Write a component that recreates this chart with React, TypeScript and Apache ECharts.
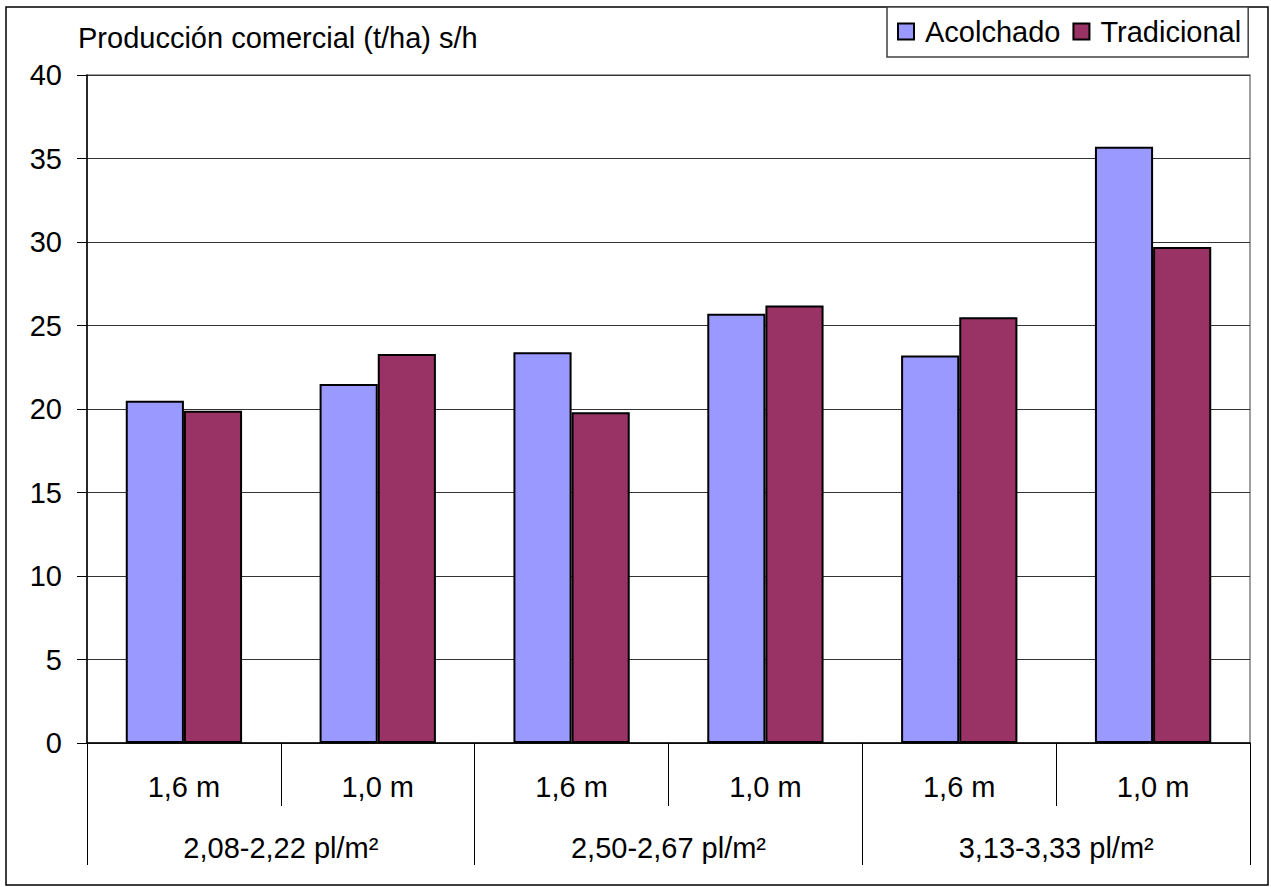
import React, { useEffect, useRef } from "react";
import * as echarts from "echarts";

const spacings = ["1,6 m", "1,0 m", "1,6 m", "1,0 m", "1,6 m", "1,0 m"];
const densities = ["2,08-2,22 pl/m²", "2,50-2,67 pl/m²", "3,13-3,33 pl/m²"];
const acolchado = [20.5, 21.5, 23.4, 25.7, 23.2, 35.7];
const tradicional = [19.9, 23.3, 19.8, 26.2, 25.5, 29.7];
const yMin = 0;
const yMax = 40;
const yStep = 5;
const titleText = "Producción comercial (t/ha) s/h";

const FONT = "'Liberation Sans', Arial, sans-serif";
const FS = 29;

export default function App() {
  const ref = useRef<HTMLDivElement>(null);
  useEffect(() => {
    if (!ref.current) return;
    const chart = echarts.init(ref.current, null, { renderer: "svg" });
    chart.setOption({
      animation: false,
      backgroundColor: "#ffffff",
      textStyle: { fontFamily: FONT, color: "#000" },
      title: {
        text: titleText,
        left: 78,
        top: 23,
        padding: 0,
        textStyle: { fontFamily: FONT, fontSize: FS, fontWeight: "normal", color: "#000" },
      },
      legend: {
        left: 887,
        top: 7,
        padding: [10, 7, 11, 10],
        itemWidth: 16,
        itemHeight: 16,
        itemGap: 12,
        borderColor: "#404040",
        borderWidth: 1.5,
        backgroundColor: "#fff",
        icon: "rect",
        textStyle: { fontFamily: FONT, fontSize: FS, color: "#000", padding: [0, 0, 0, 6] },
        data: ["Acolchado", "Tradicional"],
      },
      grid: {
        left: 87,
        top: 75,
        width: 1163,
        height: 668,
        show: true,
        borderColor: "#808080",
        borderWidth: 1.5,
        containLabel: false,
      },
      xAxis: [
        {
          type: "category",
          data: spacings,
          position: "bottom",
          axisLine: { show: true, lineStyle: { color: "#000", width: 1.5 } },
          axisTick: { show: true, length: 63, interval: 0, lineStyle: { color: "#000", width: 1 } },
          axisLabel: { fontFamily: FONT, fontSize: FS, color: "#000", margin: 29, interval: 0 },
          splitLine: { show: false },
        },
        {
          type: "category",
          data: densities,
          position: "bottom",
          axisLine: { show: false },
          axisTick: { show: true, length: 122, interval: 0, lineStyle: { color: "#000", width: 1 } },
          axisLabel: { fontFamily: FONT, fontSize: FS, color: "#000", margin: 90, interval: 0 },
          splitLine: { show: false },
        },
      ],
      yAxis: {
        type: "value",
        min: yMin,
        max: yMax,
        interval: yStep,
        axisLine: { show: true, lineStyle: { color: "#000", width: 1.5 } },
        axisTick: { show: true, length: 10, inside: false, lineStyle: { color: "#000", width: 1 } },
        axisLabel: { fontFamily: FONT, fontSize: FS, color: "#000", margin: 25 },
        splitLine: { show: true, lineStyle: { color: "#333", width: 1 } },
      },
      series: [
        {
          name: "Acolchado",
          type: "bar",
          xAxisIndex: 0,
          data: acolchado,
          barGap: "0%",
          barCategoryGap: "40%",
          itemStyle: { color: "#9999FF", borderColor: "#000", borderWidth: 2 },
        },
        {
          name: "Tradicional",
          type: "bar",
          xAxisIndex: 0,
          data: tradicional,
          barGap: "0%",
          barCategoryGap: "40%",
          itemStyle: { color: "#993366", borderColor: "#000", borderWidth: 2 },
        },
      ],
      graphic: [
        {
          type: "rect",
          z: -10,
          shape: { x: 6, y: 7, width: 1262, height: 878 },
          style: { fill: "none", stroke: "#000", lineWidth: 1.5 },
          silent: true,
        },
      ],
    });
    return () => chart.dispose();
  }, []);
  return (
    <div
      ref={ref}
      style={{ position: "fixed", left: 0, top: 0, width: 1271, height: 887 }}
    />
  );
}
